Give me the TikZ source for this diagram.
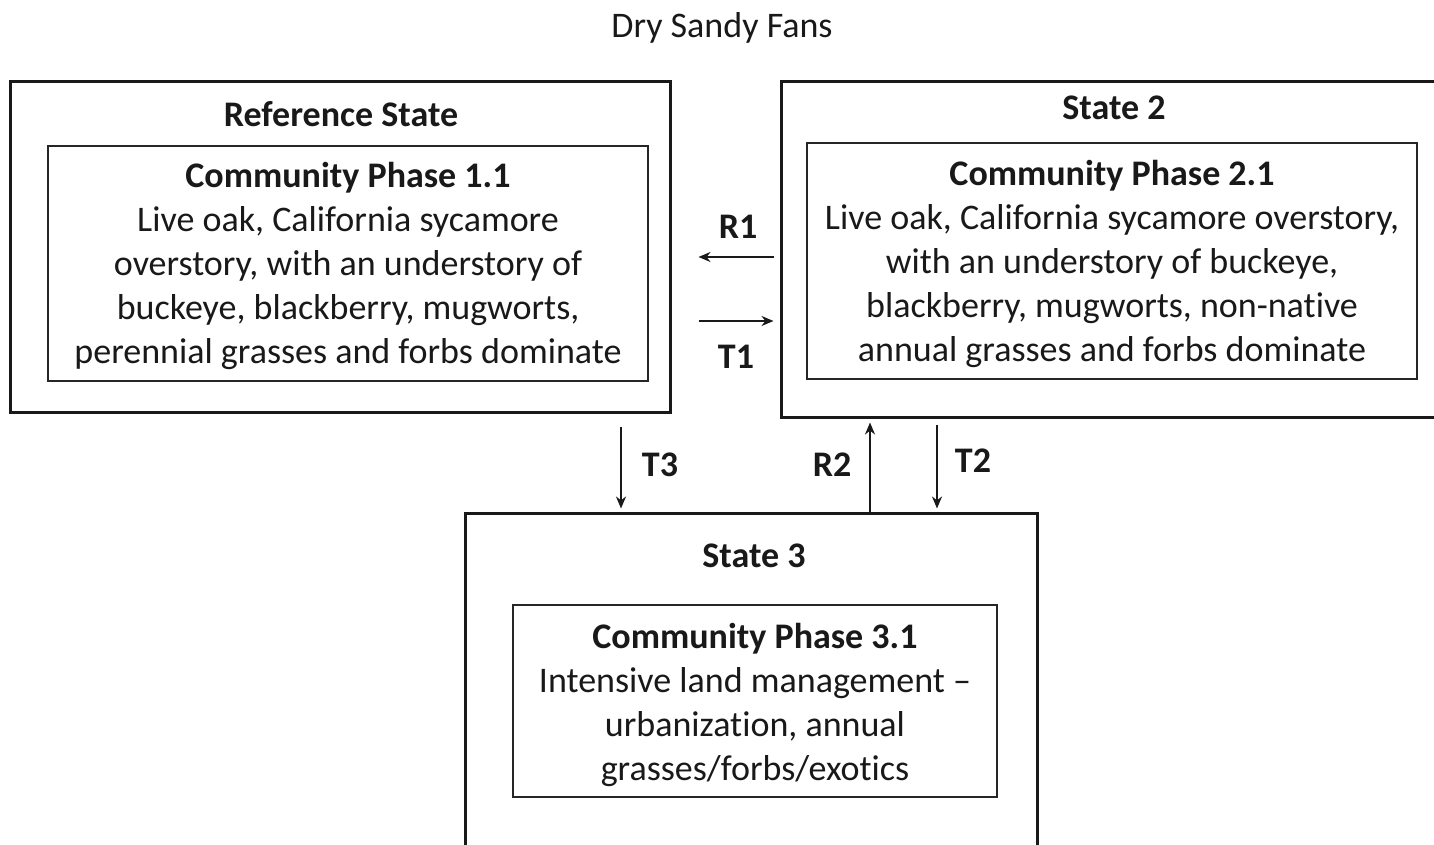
\documentclass[tikz,border=0pt]{standalone}
\usepackage{fontspec}
\setmainfont{Carlito}[Ligatures=NoCommon]
\usetikzlibrary{arrows.meta}
\begin{document}
\begin{tikzpicture}[x=0.5pt,y=-0.5pt,
  txt/.style={font=\fontsize{18}{22}\selectfont, text=black!90, inner sep=0pt, align=center},
  outerbox/.style={draw=black!90, line width=1.5pt, minimum width=#1*0.5pt},
  innerbox/.style={draw=black!85, line width=1pt, inner sep=0pt},
  arr/.style={draw=black!90, line width=1pt, -{Stealth[length=6pt,width=5pt]}},
  lbl/.style={font=\fontsize{18}{20}\selectfont\bfseries, text=black!90, inner sep=0pt}
]
\useasboundingbox (0,0) rectangle (1434,845);
\fill[white] (0,0) rectangle (1434,845);
\clip (0,0) rectangle (1434,845);

\node[txt] (title) at (722,28) {Dry Sandy Fans};

% Reference state
\node[outerbox=660, minimum height=165pt] (ref) at (340,247) {};
\node[txt, font=\fontsize{18}{22}\selectfont\bfseries] (reft) at (341,114) {Reference State};
\node[innerbox, minimum width=300pt, minimum height=117.5pt] (p11) at (348,263.5) {};
\node[txt] (p11t) at ([yshift=-1.2pt]p11.center)
  {\textbf{Community Phase 1.1}\\Live oak, California sycamore\\overstory, with an understory of\\buckeye, blackberry, mugworts,\\perennial grasses and forbs dominate};

% State 2
\node[outerbox=666, minimum height=167.5pt] (s2) at (1114,249.5) {};
\node[txt, font=\fontsize{18}{22}\selectfont\bfseries] (s2t) at (1114,108) {State 2};
\node[innerbox, minimum width=305pt, minimum height=118pt] (p21) at (1112,261) {};
\node[txt] (p21t) at ([yshift=-1.3pt]p21.center)
  {\textbf{Community Phase 2.1}\\Live oak, California sycamore overstory,\\with an understory of buckeye,\\blackberry, mugworts, non-native\\annual grasses and forbs dominate};

% State 3
\node[outerbox=572, minimum height=185pt] (s3) at (751,698) {};
\node[txt, font=\fontsize{18}{22}\selectfont\bfseries] (s3t) at (754,556) {State 3};
\node[innerbox, minimum width=242pt, minimum height=96pt] (p31) at (755,701) {};
\node[txt] (p31t) at ([yshift=-2pt]p31.center)
  {\textbf{Community Phase 3.1}\\Intensive land management --\\urbanization, annual\\grasses/forbs/exotics};

% Connectors
\draw[arr, shorten <=3pt, shorten >=13.5pt] (s2.west |- 0,257) -- (ref.east |- 0,257);
\draw[arr, shorten <=13.5pt, shorten >=3pt] (ref.east |- 0,321) -- (s2.west |- 0,321);
\draw[arr, shorten <=6.5pt, shorten >=1.5pt] (ref.south -| 621,0) -- (s3.north -| 621,0);
\draw[arr, shorten >=2pt] (s3.north -| 870,0) -- (s2.south -| 870,0);
\draw[arr, shorten <=3pt, shorten >=1.5pt] (s2.south -| 937,0) -- (s3.north -| 937,0);

\node[lbl] (r1) at (738,227) {R1};
\node[lbl] (t1) at (736,357) {T1};
\node[lbl] (t3) at (660,465) {T3};
\node[lbl] (r2) at (832,465) {R2};
\node[lbl] (t2) at (973,461) {T2};
\end{tikzpicture}
\end{document}
